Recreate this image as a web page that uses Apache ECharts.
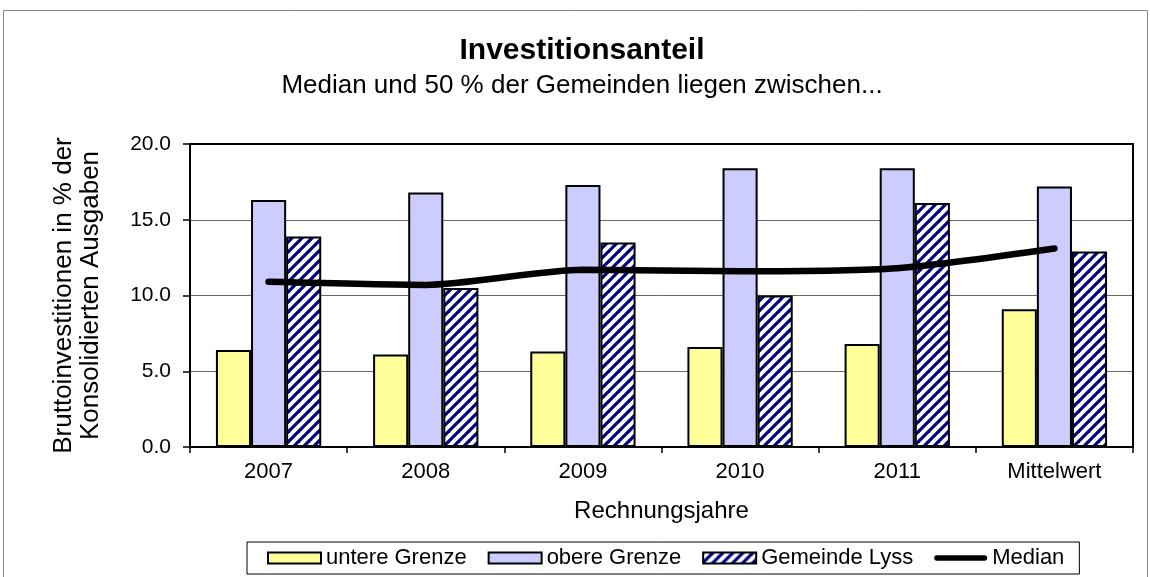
<!DOCTYPE html>
<html>
<head>
<meta charset="utf-8">
<script src="https://cdn.jsdelivr.net/npm/echarts@6/dist/echarts.min.js"></script>
<style>
    html, body { margin: 0; padding: 0; background: #fff; }
    #chart { width: 1150px; height: 577px; }
</style>
</head>
<body>
<div id="chart"></div>
<script>
    var categories = ['2007', '2008', '2009', '2010', '2011', 'Mittelwert'];
    var untereGrenze = [6.4, 6.1, 6.3, 6.6, 6.8, 9.1];
    var obereGrenze = [16.3, 16.8, 17.3, 18.4, 18.4, 17.2];
    var gemeindeLyss = [13.9, 10.5, 13.5, 10.0, 16.1, 12.9];
    var median = [10.9, 10.7, 11.7, 11.6, 11.8, 13.1];
    var yTicks = [0, 5, 10, 15, 20];

    // hatch tile for Gemeinde Lyss
    var tile = document.createElement('canvas');
    tile.width = 10;
    tile.height = 10;
    var ctx = tile.getContext('2d');
    ctx.fillStyle = '#ffffff';
    ctx.fillRect(0, 0, 10, 10);
    ctx.strokeStyle = '#000080';
    ctx.lineWidth = 3.2;
    [0, 10, 20].forEach(function (s) {
        ctx.beginPath();
        ctx.moveTo(s + 1, -1);
        ctx.lineTo(-1, s + 1);
        ctx.stroke();
    });

    var font = '"Liberation Sans", Arial, sans-serif';
    var chart = echarts.init(document.getElementById('chart'));
    var option = {
        animation: false,
        backgroundColor: '#fff',
        textStyle: { fontFamily: font, color: '#000' },
        graphic: [{
            type: 'rect',
            shape: { x: 3.5, y: 10.5, width: 1144, height: 580 },
            style: { fill: 'none', stroke: '#888', lineWidth: 1 },
            silent: true
        }, {
            // frame round the plot area
            type: 'rect',
            shape: { x: 190, y: 144, width: 943, height: 303 },
            style: { fill: 'none', stroke: '#000', lineWidth: 2 },
            silent: true,
            z: 10
        }],
        title: {
            text: 'Investitionsanteil',
            subtext: 'Median und 50 % der Gemeinden liegen zwischen...',
            left: 577,
            textAlign: 'center',
            top: 31,
            itemGap: 7,
            textStyle: { fontFamily: font, fontSize: 30, fontWeight: 'bold', color: '#000' },
            subtextStyle: { fontFamily: font, fontSize: 26, color: '#000' }
        },
        legend: {
            left: 247,
            top: 542,
            padding: [5, 15, 5, 20],
            borderColor: '#000',
            borderWidth: 1,
            icon: 'rect',
            itemWidth: 53,
            itemHeight: 11,
            itemGap: 21,
            itemStyle: { borderColor: '#000', borderWidth: 2 },
            textStyle: { fontFamily: font, fontSize: 22, color: '#000' },
            data: [
                'untere Grenze',
                'obere Grenze',
                'Gemeinde Lyss',
                {
                    name: 'Median',
                    icon: 'path://M3,0 L56,0 A3,3 0 0 1 56,6 L3,6 A3,3 0 0 1 3,0 Z',
                    itemStyle: { color: '#000', borderWidth: 0 }
                }
            ]
        },
        grid: { left: 190, right: 17, top: 144, bottom: 130 },
        xAxis: {
            type: 'category',
            data: categories,
            name: 'Rechnungsjahre',
            nameLocation: 'middle',
            nameGap: 52,
            nameTextStyle: { fontFamily: font, fontSize: 24, color: '#000' },
            axisLine: { lineStyle: { color: '#000', width: 2 } },
            axisTick: { show: true, length: 6, lineStyle: { color: '#000', width: 1.5 } },
            axisLabel: { fontFamily: font, fontSize: 22, color: '#000', margin: 14 }
        },
        yAxis: {
            type: 'value',
            min: yTicks[0],
            max: yTicks[yTicks.length - 1],
            interval: 5,
            name: 'Bruttoinvestitionen in % der\nKonsolidierten Ausgaben',
            nameLocation: 'middle',
            nameRotate: 90,
            nameGap: 86,
            nameTextStyle: { fontFamily: font, fontSize: 26, color: '#000', lineHeight: 27 },
            axisLine: { show: true, lineStyle: { color: '#000', width: 2 } },
            axisTick: { show: true, length: 7, lineStyle: { color: '#000', width: 1.5 } },
            axisLabel: {
                fontFamily: font, fontSize: 21, color: '#000', margin: 19,
                formatter: function (v) { return v.toFixed(1); }
            },
            splitLine: { lineStyle: { color: '#666', width: 1 } }
        },
        series: [
            {
                name: 'untere Grenze',
                type: 'bar',
                data: untereGrenze,
                barGap: '0%',
                barCategoryGap: '33%',
                itemStyle: { color: '#FFFF99', borderColor: '#000', borderWidth: 2 }
            },
            {
                name: 'obere Grenze',
                type: 'bar',
                data: obereGrenze,
                itemStyle: { color: '#CCCCFF', borderColor: '#000', borderWidth: 2 }
            },
            {
                name: 'Gemeinde Lyss',
                type: 'bar',
                data: gemeindeLyss,
                itemStyle: { color: { image: tile, repeat: 'repeat' }, borderColor: '#000', borderWidth: 2 }
            },
            {
                name: 'Median',
                type: 'line',
                data: median,
                smooth: 0.25,
                symbol: 'none',
                z: 5,
                lineStyle: { color: '#000', width: 6.5, cap: 'round' },
                itemStyle: { color: '#000' }
            }
        ]
    };
    chart.setOption(option);
</script>
</body>
</html>
